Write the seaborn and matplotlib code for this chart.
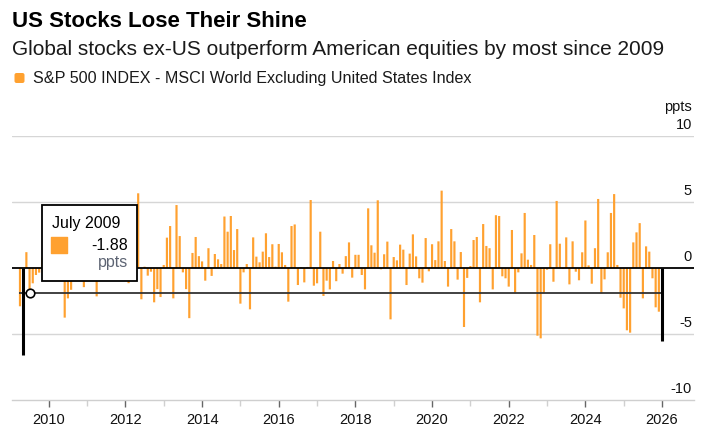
import matplotlib
matplotlib.use('Agg')
import matplotlib.pyplot as plt
import matplotlib.transforms as mtransforms
from matplotlib.patches import FancyBboxPatch, Rectangle
import pandas as pd
import seaborn as sns

# S&P 500 minus MSCI World ex-US, monthly return gap in ppts, Apr 2009 - Jan 2026
spread = [
    -2.9, -6.6, 1.2, -1.88, -1.16, -0.53, -0.35, 0.8, -0.6,            # 2009
    1.5, -0.4, 0.9, 1.8, 2.6, -3.76, -2.3, -1.65, 0.6, -0.7, 0.4, -1.45,  # 2010
    1.2, 0.5, -0.8, -2.15, 0.9, 1.4, 2.2, 3.1, -0.5, 0.7, 1.6, -0.3,     # 2011
    -0.9, -1.15, 0.4, 1.1, 5.66, -2.37, 0.1, -0.58, -0.28, -2.6, -1.6, -2.2,  # 2012
    0.23, 2.3, 3.18, -2.3, 4.77, 2.42, -0.33, -1.6, -3.8, 1.14, 2.35, 0.9,   # 2013
    0.5, -0.96, 1.5, -0.6, 1.06, 0.66, 0.3, 3.9, 2.75, 3.94, 1.36, 2.95,     # 2014
    -2.7, -0.33, 0.3, -3.13, 2.32, 0.86, 0.43, 1.24, 2.63, 0.83, 1.8, 0.1,   # 2015
    1.82, 1.19, 0.23, -2.55, 3.18, 3.3, -1.29, 0.05, -1.09, 0.08, 5.15, -1.34,  # 2016
    -1.16, 2.75, -2.12, -0.96, -1.62, 0.53, -1.0, 0.3, -0.43, 0.9, 1.94, -0.73,  # 2017
    1.0, 1.0, -0.53, -1.62, 4.52, 1.72, 1.16, 5.13, -0.1, 1.04, 2.0, -3.89,    # 2018
    0.83, 0.58, 1.77, 1.39, -1.29, 1.09, 2.55, 0.88, -0.78, -1.11, 2.27, -0.25,  # 2019
    1.8, 0.6, 2.02, 5.86, 0.53, -1.41, 2.95, 2.02, -0.88, 1.21, -4.47, -0.75,   # 2020
    0.15, 2.12, 2.35, -2.6, 3.33, 1.67, 1.5, -1.62, 4.0, 3.94, -0.63, -0.78,    # 2021
    -1.41, 2.88, -1.92, -0.33, 1.11, 4.17, 0.63, 0.23, 2.5, -5.13, -5.33, -1.92,  # 2022
    -0.13, 1.8, -1.04, 5.08, 1.84, -0.05, 2.32, -1.24, 2.02, -0.28, -0.93, 1.19,  # 2023
    3.6, 0.2, -1.19, 1.5, 5.23, -1.92, -0.86, 1.19, 4.17, 5.6, 0.23, -2.25,     # 2024
    -3.06, -4.72, -4.9, 1.94, 2.7, 3.4, -2.3, 1.64, 1.24, -0.78, -2.98, -3.31,  # 2025
    -5.53,                                                                   # 2026
]
start_month = '2009-04-01'
highlight_months = ['2009-05', '2026-01']
hover_month = '2009-07'

year_ticks = list(range(2010, 2027, 2))
minor_years = list(range(2011, 2026, 2))
y_ticks = [10, 5, 0, -5, -10]

dates = pd.date_range(start_month, periods=len(spread), freq='MS')
df = pd.DataFrame({'date': dates, 'spread': spread})
df['m'] = range(len(df))  # month index
df['highlight'] = df['date'].dt.strftime('%Y-%m').isin(highlight_months)
hover = df[df['date'].dt.strftime('%Y-%m') == hover_month].iloc[0]

start = pd.Timestamp(start_month)


def year_pos(year):
    """Month-index position of January of the given year."""
    return (year - start.year) * 12 - (start.month - 1)


ORANGE = '#FFA130'

sns.set_theme(style='white')
plt.rcParams['font.family'] = ['Liberation Sans', 'DejaVu Sans']

fig = plt.figure(figsize=(7.05, 4.33), dpi=100)
ax = fig.add_axes([12 / 705, 33 / 433, 682 / 705, 264 / 433])

sns.barplot(data=df[~df['highlight']], x='m', y='spread', native_scale=True,
            orient='x', color=ORANGE, saturation=1, width=0.68, errorbar=None,
            linewidth=0, snap=False, zorder=2, ax=ax)

# highlighted months in black
hl = df[df['highlight']]
ax.vlines(hl['m'], 0, hl['spread'], color='black', lw=2.2, zorder=4)

# grid + zero line
for v in [10, 5, -5]:
    ax.axhline(v, color='#d6d6d6', lw=1, zorder=0)
ax.axhline(0, color='black', lw=1.3, zorder=3)

# hover crosshair
ax.hlines(hover['spread'], df['m'].iloc[0] - 0.35, df['m'].iloc[-1],
          color='#333333', lw=1.3, zorder=3)
ax.scatter([hover['m']], [hover['spread']], s=38, facecolor='white',
           edgecolor='black', linewidth=1.2, zorder=8)

ax.set_xlim(year_pos(2010) - 11.5, year_pos(2026) + 10.0)
ax.set_ylim(-10, 10)
ax.set_xlabel('')
ax.set_ylabel('')
ax.set_yticks([])
ax.set_xticks([year_pos(y) for y in year_ticks])
ax.set_xticklabels([str(y) for y in year_ticks])
ax.set_xticks([year_pos(y) for y in minor_years], minor=True)
ax.tick_params(axis='x', which='major', bottom=True, length=5, width=1,
               color='#666666', labelsize=10.5, pad=4, labelcolor='#111111')
ax.tick_params(axis='x', which='minor', bottom=True, length=4, width=1,
               color='#d0d0d0')
for side in ['top', 'left', 'right']:
    ax.spines[side].set_visible(False)
ax.spines['bottom'].set_color('#cfcfcf')
ax.spines['bottom'].set_linewidth(1)

# y labels sit above their gridlines at the right
blend = mtransforms.blended_transform_factory(ax.transAxes, ax.transData)
lab_tr = mtransforms.offset_copy(blend, fig=fig, x=0, y=3, units='points')
for v in y_ticks:
    ax.text(0.997, v, str(v), transform=lab_tr, ha='right', va='bottom',
            fontsize=10.5, color='#111111', clip_on=False)
ppts_tr = mtransforms.offset_copy(blend, fig=fig, x=0, y=16, units='points')
ax.text(0.997, 10, 'ppts', transform=ppts_tr, ha='right', va='bottom',
        fontsize=10.5, color='#111111', clip_on=False)

# tooltip (positions in month-index units)
box_x0 = year_pos(2010) - 2.2
ax.add_patch(Rectangle((box_x0, -0.98), 29.9, 5.75, facecolor='white',
                       edgecolor='black', lw=1.3, zorder=6))
ax.text(box_x0 + 3.1, 3.4, hover['date'].strftime('%B %Y'), fontsize=11.5,
        va='center', ha='left', color='black', zorder=7)
ax.scatter([box_x0 + 5.5], [1.72], marker='s', s=125, color=ORANGE, zorder=7)
ax.text(box_x0 + 27.0, 1.74, f"{hover['spread']:.2f}", fontsize=11.5,
        va='center', ha='right', color='black', zorder=7)
ax.text(box_x0 + 27.0, 0.38, 'ppts', fontsize=11.5, va='center', ha='right',
        color='#5d6473', zorder=7)

# header
inch = fig.dpi_scale_trans
fig.text(0.12, 4.06, 'US Stocks Lose Their Shine', transform=inch,
         fontsize=16, fontweight='bold', color='black', va='baseline')
fig.text(0.12, 3.78,
         'Global stocks ex-US outperform American equities by most since 2009',
         transform=inch, fontsize=15, color='#1a1a1a', va='baseline')
fig.add_artist(FancyBboxPatch((0.145, 3.50), 0.10, 0.10,
                              boxstyle='round,pad=0,rounding_size=0.02',
                              transform=inch, facecolor=ORANGE, edgecolor='none'))
fig.text(0.33, 3.55, 'S&P 500 INDEX - MSCI World Excluding United States Index',
         transform=inch, fontsize=11.6, color='#1a1a1a', va='center')

fig.savefig('out.png', dpi=100)
